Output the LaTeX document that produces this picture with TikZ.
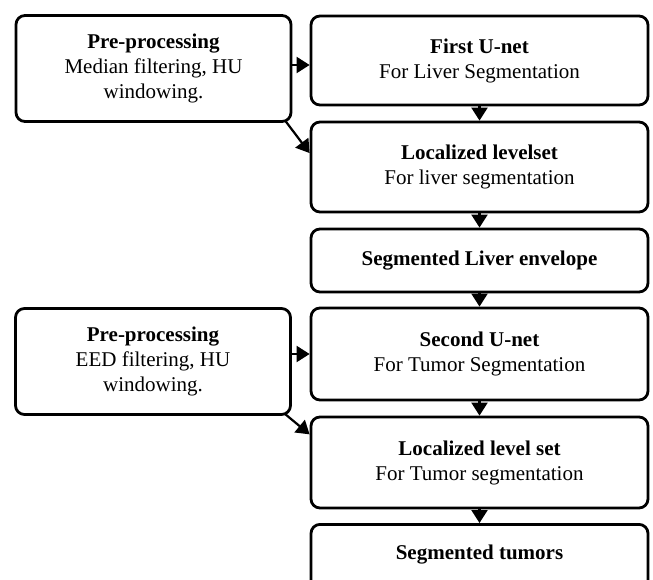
\documentclass[tikz,border=0pt]{standalone}
\usepackage{fontspec}
\setmainfont{Liberation Serif}
\usetikzlibrary{arrows.meta,calc}

\begin{document}
\begin{tikzpicture}[x=1pt,y=-1pt,
        box/.style={draw, line width=2.8pt, rounded corners=9pt, align=center,
            inner sep=0pt, minimum width=337pt,
            font=\fontsize{21}{25}\selectfont},
        prebox/.style={box, minimum width=275pt, minimum height=106pt},
        arr/.style={line width=2.2pt, -{Triangle[length=13pt,width=16pt]}}]
        \useasboundingbox (0,0) rectangle (653,580);

        % Pre-processing boxes (left column)
        \node[prebox] (preA) at (153.5,68.5) {\textbf{Pre-processing}\\Median filtering, HU\\windowing.};
        \node[prebox] (preB) at (153,361.5) {\textbf{Pre-processing}\\EED filtering, HU\\windowing.};

        % Main pipeline (right column)
        \node[box, minimum height=89pt] (r1) at (479.5,60.5) {\textbf{First U-net}\\For Liver Segmentation};
        \node[box, minimum height=90pt] (r2) at (479.5,167) {\textbf{Localized levelset}\\For liver segmentation};
        \node[box, minimum height=63pt] (r3) at (479.5,260.5) {\textbf{Segmented Liver envelope}};
        \node[box, minimum height=92pt] (r4) at (479.5,354) {\textbf{Second U-net}\\For Tumor Segmentation};
        \node[box, minimum height=91pt] (r5) at (479.5,462.5) {\textbf{Localized level set}\\For Tumor segmentation};
        \node[box, minimum height=75pt, text depth=19pt, anchor=north] (r6) at (479.5,523) {\textbf{Segmented tumors}};

        % Arrows down the pipeline
        \foreach \a/\b in {r1/r2, r2/r3, r3/r4, r4/r5, r5/r6} {
            \draw[arr] (\a.south) -- (\b.north);
        }

        % Arrows from pre-processing
        \coordinate (inA) at ($(r2.north west)!0.35!(r2.south west)$);
        \coordinate (inB) at ($(r5.north west)!0.2!(r5.south west)$);
        \draw[arr] (preA.east |- 0,65) -- (r1.west |- 0,65);
        \draw[arr] ($(preA.south east)+(-7,-2)$) -- (inA);
        \draw[arr] (preB.east |- r4.west) -- (r4.west);
        \draw[arr] ($(preB.south east)+(-7,-2)$) -- (inB);
    \end{tikzpicture}
\end{document}
